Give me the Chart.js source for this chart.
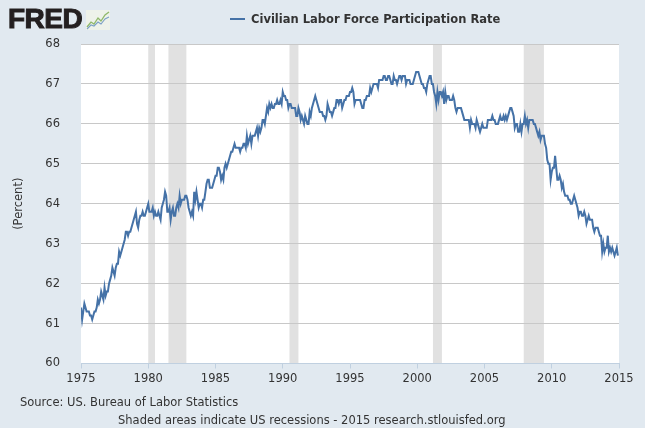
<!DOCTYPE html>
<html>
<head>
<meta charset="utf-8">
<title>Civilian Labor Force Participation Rate</title>
<script src="https://cdn.jsdelivr.net/npm/chart.js@4.4.1/dist/chart.umd.min.js"></script>
<style>
  html, body { margin: 0; padding: 0; }
  body { width: 645px; height: 428px; background: #e1e9f0; position: relative; overflow: hidden;
         font-family: "DejaVu Sans", Verdana, sans-serif; color: #333; }
  #wrap { position: absolute; left: 0; top: 0; width: 645px; height: 428px; }
  .logo { position: absolute; left: 8px; top: 5px; font-family: "Liberation Sans", Arial, sans-serif;
          font-weight: bold; font-size: 28px; line-height: 28px; color: #231f20; letter-spacing: -0.5px;
          -webkit-text-stroke: 1px #231f20; }
  .logo svg { position: absolute; left: 78px; top: 5px; }
  .title { position: absolute; left: 230px; top: 11px; font-size: 11.5px; font-weight: bold; color: #333;
           line-height: 16px; white-space: nowrap; }
  .title .dash { display: inline-block; width: 15px; height: 2px; background: #4572a7; vertical-align: middle;
                 margin-right: 6px; position: relative; top: -1px; }
  .note { position: absolute; font-size: 11.5px; line-height: 14px; white-space: nowrap; color: #333; }
</style>
</head>
<body>
<div id="wrap"><canvas id="chart"></canvas></div>
<div class="logo">FRED<svg width="24" height="20" viewBox="0 0 24 20">
  <rect x="0" y="0" width="24" height="20" fill="#eef2ea"/>
  <polyline points="1,17 5,12 8,14 12,8 15,11 19,5 23,2" fill="none" stroke="#8fb86a" stroke-width="1.3"/>
  <polyline points="1,19 5,15 8,16 12,12 15,14 19,9 23,7" fill="none" stroke="#7da1c6" stroke-width="1.1"/>
</svg></div>
<div class="title"><span class="dash"></span>Civilian Labor Force Participation Rate</div>
<div class="note" style="left:20px; top:395px;">Source: US. Bureau of Labor Statistics</div>
<div class="note" style="left:118px; top:413px;">Shaded areas indicate US recessions - 2015 research.stlouisfed.org</div>
<script>
// monthly values, Jan 1975 .. Dec 2014, one row per year
const startYear = 1975;
const participation = [
  61.4, 61.1, 61.3, 61.5, 61.4, 61.3, 61.3, 61.3, 61.2, 61.2, 61.1, 61.2,
  61.3, 61.3, 61.4, 61.6, 61.5, 61.6, 61.8, 61.7, 61.6, 61.9, 61.7, 61.8,
  61.8, 62.0, 62.1, 62.2, 62.4, 62.3, 62.2, 62.4, 62.5, 62.5, 62.8, 62.7,
  62.8, 62.9, 63.0, 63.1, 63.3, 63.3, 63.2, 63.3, 63.3, 63.4, 63.5, 63.6,
  63.7, 63.8, 63.5, 63.4, 63.6, 63.7, 63.7, 63.8, 63.7, 63.7, 63.8, 63.9,
  64.0, 63.8, 63.8, 63.8, 63.9, 63.7, 63.8, 63.7, 63.7, 63.8, 63.7, 63.6,
  63.9, 64.0, 64.1, 64.3, 64.2, 63.8, 63.8, 63.9, 63.6, 63.8, 63.9, 63.7,
  63.7, 63.9, 64.0, 63.9, 64.2, 64.0, 64.1, 64.1, 64.1, 64.2, 64.2, 64.1,
  63.9, 63.8, 63.7, 63.8, 63.7, 64.3, 64.1, 64.3, 64.1, 63.9, 64.0, 64.0,
  63.9, 64.1, 64.1, 64.3, 64.5, 64.6, 64.6, 64.4, 64.4, 64.4, 64.5, 64.6,
  64.7, 64.7, 64.9, 64.9, 64.8, 64.6, 64.7, 64.6, 64.9, 65.0, 64.9, 65.0,
  65.1, 65.2, 65.3, 65.3, 65.4, 65.5, 65.4, 65.4, 65.4, 65.4, 65.3, 65.4,
  65.4, 65.5, 65.5, 65.4, 65.7, 65.5, 65.6, 65.7, 65.5, 65.7, 65.7, 65.7,
  65.8, 65.9, 65.7, 65.9, 65.8, 65.9, 66.1, 66.1, 66.0, 66.2, 66.4, 66.3,
  66.5, 66.4, 66.5, 66.4, 66.4, 66.5, 66.5, 66.6, 66.5, 66.5, 66.6, 66.5,
  66.8, 66.7, 66.7, 66.6, 66.6, 66.4, 66.5, 66.5, 66.4, 66.4, 66.4, 66.4,
  66.2, 66.2, 66.4, 66.3, 66.1, 66.2, 66.1, 66.0, 66.2, 66.1, 66.0, 66.0,
  66.3, 66.2, 66.4, 66.5, 66.6, 66.7, 66.6, 66.5, 66.4, 66.3, 66.3, 66.3,
  66.2, 66.2, 66.1, 66.2, 66.5, 66.4, 66.3, 66.3, 66.2, 66.3, 66.4, 66.4,
  66.6, 66.6, 66.5, 66.6, 66.6, 66.4, 66.5, 66.6, 66.6, 66.7, 66.7, 66.7,
  66.8, 66.8, 66.9, 66.8, 66.5, 66.6, 66.6, 66.6, 66.6, 66.6, 66.5, 66.4,
  66.4, 66.6, 66.6, 66.7, 66.7, 66.7, 66.9, 66.8, 66.9, 67.0, 67.0, 67.0,
  67.0, 66.9, 67.1, 67.1, 67.1, 67.1, 67.2, 67.2, 67.1, 67.1, 67.2, 67.2,
  67.1, 67.0, 67.0, 67.2, 67.1, 67.1, 67.0, 67.1, 67.2, 67.2, 67.1, 67.2,
  67.2, 67.2, 67.0, 67.1, 67.1, 67.1, 67.0, 67.0, 67.0, 67.1, 67.2, 67.3,
  67.3, 67.3, 67.2, 67.1, 67.0, 67.0, 66.9, 66.9, 66.8, 67.0, 67.1, 67.2,
  67.2, 67.0, 67.0, 66.8, 66.7, 66.5, 66.8, 66.6, 66.8, 66.8, 66.7, 66.8,
  66.5, 66.8, 66.6, 66.7, 66.7, 66.6, 66.6, 66.6, 66.7, 66.6, 66.4, 66.3,
  66.4, 66.4, 66.4, 66.4, 66.3, 66.2, 66.1, 66.1, 66.1, 66.1, 66.1, 65.9,
  66.1, 66.0, 66.0, 66.0, 65.9, 66.1, 66.0, 65.9, 65.8, 65.9, 66.0, 65.9,
  65.9, 65.9, 65.9, 66.1, 66.1, 66.1, 66.1, 66.2, 66.1, 66.1, 66.0, 66.0,
  66.0, 66.1, 66.2, 66.1, 66.1, 66.2, 66.1, 66.2, 66.1, 66.2, 66.3, 66.4,
  66.4, 66.3, 66.2, 65.9, 66.0, 66.0, 65.8, 65.8, 66.0, 65.8, 66.0, 66.0,
  66.2, 66.0, 66.1, 65.9, 66.1, 66.1, 66.1, 66.1, 66.0, 66.0, 65.9, 65.8,
  65.7, 65.8, 65.6, 65.7, 65.7, 65.7, 65.5, 65.4, 65.1, 65.0, 65.0, 64.6,
  64.8, 64.9, 64.9, 65.2, 64.9, 64.6, 64.6, 64.7, 64.6, 64.4, 64.5, 64.3,
  64.2, 64.2, 64.2, 64.1, 64.1, 64.0, 64.0, 64.1, 64.2, 64.1, 64.0, 63.9,
  63.7, 63.8, 63.8, 63.7, 63.7, 63.8, 63.7, 63.5, 63.6, 63.7, 63.6, 63.6,
  63.6, 63.4, 63.3, 63.4, 63.4, 63.4, 63.3, 63.2, 63.2, 62.8, 63.0, 62.8,
  62.9, 62.9, 63.2, 62.8, 62.9, 62.8, 62.9, 62.8, 62.7, 62.8, 62.9, 62.7
];

// recessions as decimal years
const recessionStarts = [1980.0, 1981.5, 1990.5, 2001.167, 2007.917];
const recessionEnds   = [1980.5, 1982.833, 1991.167, 2001.833, 2009.417];

const xMin = 1975, xMax = 2015, xStep = 5;
const yMin = 60, yMax = 68, yStep = 1;

const points = participation.map((v, i) => ({ x: startYear + i / 12, y: v }));

// white plot background and grey recession bars, under the grid
const recessionBars = {
    id: 'recessionBars',
    beforeDraw(chart) {
        const { ctx, chartArea, scales } = chart;
        ctx.save();
        ctx.fillStyle = '#ffffff';
        ctx.fillRect(chartArea.left, chartArea.top, chartArea.right - chartArea.left, chartArea.bottom - chartArea.top);
        ctx.fillStyle = '#e1e1e1';
        recessionStarts.forEach((s, i) => {
            const x1 = scales.x.getPixelForValue(s);
            const x2 = scales.x.getPixelForValue(recessionEnds[i]);
            ctx.fillRect(x1, chartArea.top, x2 - x1, chartArea.bottom - chartArea.top);
        });
        ctx.restore();
    }
};

Chart.defaults.font.family = '"DejaVu Sans", Verdana, sans-serif';
Chart.defaults.font.size = 11.5;
Chart.defaults.color = '#333';

new Chart(document.getElementById('chart'), {
    type: 'line',
    data: {
        datasets: [{
            label: 'Civilian Labor Force Participation Rate',
            data: points,
            borderColor: '#4572a7',
            borderWidth: 2,
            pointRadius: 0,
            tension: 0,
            fill: false
        }]
    },
    options: {
        responsive: true,
        maintainAspectRatio: false,
        animation: false,
        layout: { padding: { top: 44, right: 26, left: 0, bottom: 0 } },
        plugins: {
            legend: { display: false },
            tooltip: { enabled: false }
        },
        scales: {
            x: {
                type: 'linear',
                min: xMin,
                max: xMax,
                afterFit: (scale) => { scale.height = 64.5; },
                ticks: {
                    stepSize: xStep,
                    padding: 4,
                    maxRotation: 0,
                    callback: (value) => String(value)
                },
                grid: {
                    drawOnChartArea: false,
                    drawTicks: true,
                    tickLength: 5,
                    color: '#c0d0e0'
                },
                border: { display: true, color: '#c0d0e0' }
            },
            y: {
                min: yMin,
                max: yMax,
                afterFit: (scale) => { scale.width = 81; },
                ticks: { stepSize: yStep, padding: 21 },
                grid: {
                    drawTicks: false,
                    color: (ctx) => ctx.tick && ctx.tick.value === yMin ? 'rgba(0,0,0,0)' : '#c8c8c8'
                },
                border: { display: false },
                title: {
                    display: true,
                    text: '(Percent)',
                    padding: { top: 12, bottom: 0 }
                }
            }
        }
    },
    plugins: [recessionBars]
});
</script>
</body>
</html>
